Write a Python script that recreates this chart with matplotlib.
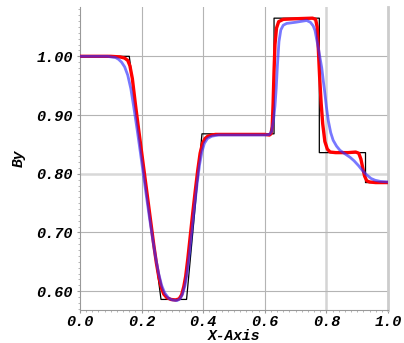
import numpy as np
import matplotlib
matplotlib.use("Agg")
import matplotlib.pyplot as plt
import matplotlib.ticker as mticker
from matplotlib.font_manager import FontProperties

# exact solution (step / ramp profile)
x_exact = [0.0, 0.160, 0.263, 0.346, 0.396, 0.630, 0.630, 0.777, 0.777, 0.927, 0.927, 1.0]
y_exact = [1.000, 1.000, 0.586, 0.586, 0.868, 0.868, 1.065, 1.065, 0.836, 0.836, 0.785, 0.785]

# red scheme (sharper)
x_red = [0.00, 0.10, 0.13, 0.145, 0.155, 0.162, 0.170, 0.180, 0.190, 0.200, 0.210,
         0.220, 0.230, 0.240, 0.248, 0.256, 0.264, 0.272, 0.282, 0.295, 0.310, 0.322,
         0.330, 0.337, 0.343, 0.350, 0.358, 0.366, 0.374, 0.382, 0.390, 0.398, 0.406,
         0.415, 0.428, 0.44, 0.50, 0.60, 0.615, 0.620, 0.624, 0.627, 0.630, 0.633,
         0.638, 0.645, 0.66, 0.70, 0.755, 0.765, 0.770, 0.774, 0.778, 0.783, 0.788,
         0.795, 0.803, 0.812, 0.83, 0.87, 0.895, 0.905, 0.912, 0.918, 0.924, 0.931,
         0.94, 0.96, 1.0]
y_red = [1.000, 1.000, 0.999, 0.997, 0.993, 0.984, 0.962, 0.918, 0.877, 0.837, 0.797,
         0.757, 0.717, 0.677, 0.648, 0.624, 0.606, 0.595, 0.589, 0.586, 0.585, 0.587,
         0.594, 0.608, 0.625, 0.655, 0.694, 0.733, 0.770, 0.805, 0.835, 0.852, 0.860,
         0.864, 0.866, 0.867, 0.867, 0.867, 0.866, 0.868, 0.880, 0.920, 0.975, 1.020,
         1.048, 1.059, 1.063, 1.064, 1.065, 1.063, 1.050, 1.010, 0.965, 0.920, 0.885,
         0.855, 0.842, 0.837, 0.836, 0.836, 0.837, 0.835, 0.825, 0.810, 0.796, 0.788,
         0.786, 0.785, 0.785]

# blue scheme (more diffusive)
x_blue = [0.00, 0.09, 0.10, 0.115, 0.125, 0.135, 0.145, 0.155, 0.165, 0.175, 0.185,
          0.195, 0.205, 0.215, 0.225, 0.235, 0.245, 0.255, 0.265, 0.275, 0.288, 0.300,
          0.315, 0.325, 0.333, 0.341, 0.348, 0.356, 0.364, 0.372, 0.380, 0.388, 0.396,
          0.404, 0.414, 0.428, 0.45, 0.60, 0.615, 0.622, 0.628, 0.633, 0.637, 0.641,
          0.646, 0.652, 0.660, 0.671, 0.70, 0.736, 0.748, 0.757, 0.763, 0.768, 0.774,
          0.780, 0.785, 0.790, 0.795, 0.800, 0.806, 0.814, 0.822, 0.833, 0.844, 0.860,
          0.877, 0.890, 0.904, 0.918, 0.931, 0.945, 0.958, 0.975, 1.0]
y_blue = [1.000, 1.000, 0.999, 0.998, 0.995, 0.990, 0.982, 0.968, 0.945, 0.912, 0.877,
          0.840, 0.802, 0.764, 0.727, 0.692, 0.659, 0.631, 0.610, 0.597, 0.588, 0.585,
          0.584, 0.587, 0.595, 0.610, 0.632, 0.666, 0.705, 0.745, 0.782, 0.815, 0.838,
          0.852, 0.860, 0.864, 0.866, 0.866, 0.867, 0.872, 0.890, 0.915, 0.945, 0.985,
          1.025, 1.045, 1.053, 1.056, 1.058, 1.061, 1.058, 1.052, 1.044, 1.030, 1.014,
          0.995, 0.980, 0.958, 0.937, 0.914, 0.891, 0.870, 0.857, 0.847, 0.840, 0.834,
          0.828, 0.822, 0.814, 0.805, 0.798, 0.792, 0.789, 0.787, 0.786]

x_ticks = [0.0, 0.2, 0.4, 0.6, 0.8, 1.0]
y_ticks = [0.60, 0.70, 0.80, 0.90, 1.00]

fnt = dict(family="Liberation Mono", weight="bold", style="italic", size=11)
lblfnt = dict(family="Liberation Mono", weight="bold", style="italic", size=10.5)

fig = plt.figure(figsize=(4.04, 3.43), dpi=100)
# axes: x 80..388 px, y 7..310 px
ax = fig.add_axes([80 / 404, 33 / 343, 308 / 404, 303 / 343])

# grid
for gx in [0.2, 0.4, 0.6]:
    ax.axvline(gx, color="#b4b4b4", lw=0.8, zorder=0)
ax.axvline(0.8, color="#d4d4d4", lw=1.8, zorder=0)
for gy in [0.6, 0.7, 0.9, 1.0]:
    ax.axhline(gy, color="#b4b4b4", lw=0.8, zorder=0)
ax.axhline(0.8, color="#d8d8d8", lw=1.8, zorder=0)

ax.plot(x_exact, y_exact, color="black", lw=0.9, zorder=2)
ax.plot(x_red, y_red, color="#ff0000", lw=2.4, zorder=3)
ax.plot(x_blue, y_blue, color="#3030ff", lw=2.0, alpha=0.65, zorder=4)

ax.set_xlim(0.0, 1.0)
ax.set_ylim(0.568, 1.084)
ax.set_xticks(x_ticks)
ax.set_yticks(y_ticks)
ax.xaxis.set_minor_locator(mticker.MultipleLocator(0.02))
ax.yaxis.set_minor_locator(mticker.MultipleLocator(0.01))
ax.xaxis.set_major_formatter(mticker.FormatStrFormatter('%.1f'))
ax.yaxis.set_major_formatter(mticker.FormatStrFormatter('%.2f'))
ax.tick_params(which="major", length=2.5, color="#999999", width=0.8)
ax.tick_params(axis="x", which="major", pad=1)
ax.tick_params(axis="y", which="major", pad=2.5)
ax.tick_params(which="minor", length=1.5, color="#aaaaaa", width=0.6)
for lab in ax.get_xticklabels() + ax.get_yticklabels():
    lab.set_fontproperties(FontProperties(**fnt))

ax.spines["top"].set_visible(False)
ax.spines["right"].set_color("#cccccc")
ax.spines["right"].set_linewidth(2.0)
ax.spines["left"].set_color("#999999")
ax.spines["left"].set_linewidth(0.8)
ax.spines["bottom"].set_color("#999999")
ax.spines["bottom"].set_linewidth(0.8)

fig.text(234 / 404, 0.0, "X-Axis", ha="center", va="bottom", **lblfnt)
ax.set_ylabel("By", labelpad=8, **lblfnt)

fig.savefig("out.png", dpi=100)
